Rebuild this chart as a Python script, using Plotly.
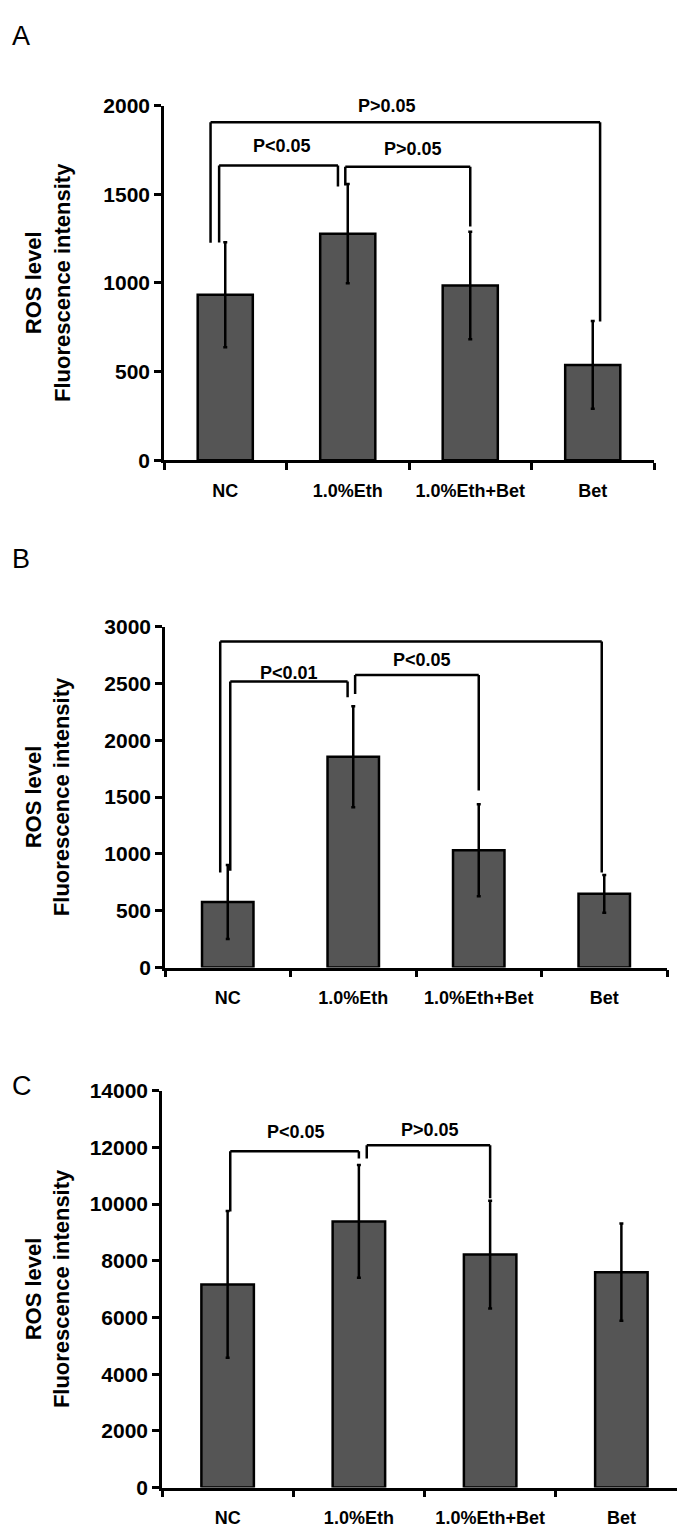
import plotly.graph_objects as go

# ---------------- data ----------------
categories = ["NC", "1.0%Eth", "1.0%Eth+Bet", "Bet"]

a_mean = [934, 1278, 986, 538]
a_err = [296, 280, 303, 248]
a_ticks = [0, 500, 1000, 1500, 2000]

b_mean = [577, 1855, 1033, 649]
b_err = [325, 444, 405, 166]
b_ticks = [0, 500, 1000, 1500, 2000, 2500, 3000]

c_mean = [7166, 9386, 8218, 7598]
c_err = [2590, 1988, 1900, 1712]
c_ticks = [0, 2000, 4000, 6000, 8000, 10000, 12000, 14000]

# significance brackets: left bar, right bar, bracket level, left leg end, right leg end, label, label level
a_pairs = [(0, 3), (0, 1), (1, 2)]
a_levels = [1907, 1662, 1655]
a_leg_ends = [(1227, 783), (1228, 1544), (1550, 1319)]
a_labels = ["P>0.05", "P<0.05", "P>0.05"]
a_label_levels = [2000, 1773, 1754]

b_pairs = [(0, 3), (0, 1), (1, 2)]
b_levels = [2870, 2518, 2576]
b_leg_ends = [(836, 836), (851, 2380), (2408, 1558)]
b_labels = ["P>0.05", "P<0.01", "P<0.05"]
b_label_levels = [3014, 2596, 2705]

c_pairs = [(0, 1), (1, 2)]
c_levels = [11865, 12075]
c_leg_ends = [(9737, 11607), (11607, 10205)]
c_labels = ["P<0.05", "P>0.05"]
c_label_levels = [12543, 12600]

# ---------------- style / layout ----------------
W, H = 685, 1529
FONT = "Arial, Liberation Sans, sans-serif"
BAR_FILL = "#555555"

# pixel boxes for each panel: (left, right, top, bottom)
boxes = [(156, 646, 87, 447), (157, 659, 616, 962), (154, 679, 1087, 1490)]
bar_widths = [0.45, 0.41, 0.40]
# small horizontal offsets of bracket legs (category units)
a_offsets = [(-0.12, 0.06), (-0.05, -0.08), (-0.02, 0.0)]
b_offsets = [(-0.06, -0.02), (0.02, -0.045), (0.015, 0.0)]
c_offsets = [(0.02, 0.0), (0.06, 0.0)]
a_label_x = [1.32, 0.46, 1.53]
b_label_x = [1.37, 0.49, 1.55]
c_label_x = [0.52, 1.54]
letters = [("A", 13, 16), ("B", 13, 547), ("C", 14, 1082)]

panels = [
    (a_mean, a_err, a_ticks, a_pairs, a_levels, a_leg_ends, a_labels, a_label_levels, a_offsets, a_label_x),
    (b_mean, b_err, b_ticks, b_pairs, b_levels, b_leg_ends, b_labels, b_label_levels, b_offsets, b_label_x),
    (c_mean, c_err, c_ticks, c_pairs, c_levels, c_leg_ends, c_labels, c_label_levels, c_offsets, c_label_x),
]

fig = go.Figure()
shapes = []
annotations = []

for k, (mean, err, ticks, pairs, levels, legs, labels, lab_lv, offs, lab_x) in enumerate(panels):
    n = "" if k == 0 else str(k + 1)
    xa, ya = "x" + n, "y" + n
    left, right, top, bottom = boxes[k]
    fig.add_trace(go.Bar(
        x=categories, y=mean, xaxis=xa, yaxis=ya,
        marker=dict(color=BAR_FILL, line=dict(color="black", width=2.5)),
        error_y=dict(type="data", array=err, visible=True, color="black", thickness=2.5, width=2),
        width=bar_widths[k], showlegend=False,
    ))
    xdom = [left / W, right / W]
    ydom = [1 - bottom / H, 1 - top / H]
    fig.layout["xaxis" + n] = dict(
        domain=xdom, anchor=ya, type="category", range=[-0.5, 3.5],
        showline=True, linecolor="black", linewidth=2.5, ticks="outside", tickson="boundaries",
        ticklen=7, tickwidth=2.5, tickcolor="black", showgrid=False, zeroline=False, tickangle=0,
        tickfont=dict(family=FONT, size=18, color="black", weight="bold"), ticklabelstandoff=12,
    )
    fig.layout["yaxis" + n] = dict(
        domain=ydom, anchor=xa, range=[0, ticks[-1]], tickvals=ticks, tickformat="d",
        showline=True, linecolor="black", linewidth=2.5, ticks="outside",
        ticklen=7, tickwidth=2.5, tickcolor="black", showgrid=False, zeroline=False,
        tickfont=dict(family=FONT, size=21, color="black", weight="bold"),
    )
    # brackets
    for (i, j), lv, (li, lj), lab, llv, (oi, oj), lx in zip(pairs, levels, legs, labels, lab_lv, offs, lab_x):
        xi, xj = i + oi, j + oj
        for x0, y0, x1, y1 in [(xi, li, xi, lv), (xi, lv, xj, lv), (xj, lv, xj, lj)]:
            shapes.append(dict(type="line", xref=xa, yref=ya, x0=x0, y0=y0, x1=x1, y1=y1,
                               line=dict(color="black", width=2.5)))
        annotations.append(dict(xref=xa, yref=ya, x=lx, y=llv, text=lab, showarrow=False,
                                font=dict(family=FONT, size=18, color="black", weight="bold"),
                                xanchor="center", yanchor="middle"))
    # y title
    annotations.append(dict(xref="paper", yref="paper", x=40 / W, y=1 - (top + bottom) / 2 / H,
                            text="ROS level<br>Fluorescence intensity", textangle=-90, showarrow=False,
                            font=dict(family=FONT, size=22, color="black", weight="bold"),
                            xanchor="center", yanchor="middle"))

for letter, px, py in letters:
    annotations.append(dict(xref="paper", yref="paper", x=px / W, y=1 - py / H, text=letter,
                            showarrow=False, font=dict(family=FONT, size=27, color="black"),
                            xanchor="center", yanchor="middle"))

fig.update_layout(
    width=W, height=H, margin=dict(l=0, r=0, t=0, b=0),
    paper_bgcolor="white", plot_bgcolor="white",
    shapes=shapes, annotations=annotations, bargap=0.56,
)

fig.write_html("out.html")
